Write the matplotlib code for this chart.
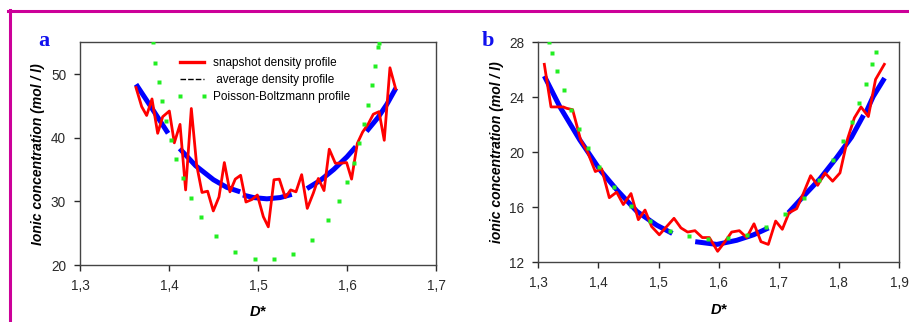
import numpy as np
import matplotlib.pyplot as plt
from matplotlib.lines import Line2D

nan = np.nan

# ---- panel a ----
snap_a_d = [1.3629, 1.3693, 1.3749, 1.3809, 1.3873, 1.3929, 1.4004, 1.4060,
            1.4124, 1.4187, 1.4251, 1.4311, 1.4371, 1.4434, 1.4498, 1.4562,
            1.4622, 1.4685, 1.4745, 1.4805, 1.4865, 1.4933, 1.4993, 1.5060,
            1.5116, 1.5180, 1.5240, 1.5307, 1.5367, 1.5427, 1.5491, 1.5554,
            1.5622, 1.5678, 1.5742, 1.5801, 1.5869, 1.5929, 1.5996, 1.6052,
            1.6116, 1.6176, 1.6240, 1.6296, 1.6360, 1.6419, 1.6483, 1.6547]
snap_a_c = [47.9, 44.9, 43.5, 46.1, 40.7, 43.3, 44.2, 39.2,
            42.1, 31.8, 44.6, 35.7, 31.4, 31.6, 28.5, 30.7,
            36.1, 31.5, 33.5, 34.1, 29.9, 30.3, 31.0, 27.6,
            26.0, 33.4, 33.5, 30.6, 31.8, 31.5, 34.2, 28.9,
            31.3, 33.6, 31.7, 38.2, 36.0, 36.0, 36.1, 33.5,
            39.1, 40.9, 42.2, 43.7, 44.1, 39.6, 51.0, 47.7]

# average profile, drawn as separate pieces (nan = break)
avg_a_d = [1.363, 1.380, 1.399, nan,
           1.412, 1.430, 1.450, 1.465, 1.480, nan,
           1.483, 1.495, 1.510, 1.525, 1.538, nan,
           1.555, 1.570, 1.585, 1.600, 1.610, nan,
           1.622, 1.635, 1.645, 1.655]
avg_a_c = [48.4, 44.8, 40.7, nan,
           38.3, 35.6, 33.4, 32.2, 31.5, nan,
           31.0, 30.6, 30.4, 30.6, 31.1, nan,
           32.0, 33.3, 35.0, 37.0, 38.6, nan,
           41.0, 43.2, 45.3, 47.8]

pb_a_d = [1.3816, 1.3846, 1.3888, 1.3925, 1.3966, 1.4022, 1.4082, 1.4154,
          1.4243, 1.4360, 1.4528, 1.4742, 1.4963, 1.5180, 1.5393, 1.5610,
          1.5790, 1.5910, 1.6004, 1.6079, 1.6139, 1.6195, 1.6236, 1.6277,
          1.6315, 1.6352, 1.6360]
pb_a_c = [55.0, 51.8, 48.8, 45.8, 42.7, 39.6, 36.6, 33.6,
          30.6, 27.5, 24.5, 22.1, 20.9, 20.9, 21.8, 24.0,
          27.1, 30.1, 33.1, 36.1, 39.1, 42.1, 45.2, 48.3,
          51.3, 54.3, 54.9]

# ---- panel b ----
snap_b_d = [1.3100, 1.3211, 1.3416, 1.3471, 1.3571, 1.3704, 1.3821, 1.3948,
            1.4054, 1.4181, 1.4303, 1.4414, 1.4542, 1.4664, 1.4775, 1.4885,
            1.5013, 1.5135, 1.5257, 1.5373, 1.5484, 1.5606, 1.5728, 1.5845,
            1.5983, 1.6105, 1.6216, 1.6344, 1.6466, 1.6588, 1.6704, 1.6826,
            1.6948, 1.7059, 1.7170, 1.7298, 1.7408, 1.7530, 1.7647, 1.7769,
            1.7896, 1.8018, 1.8146, 1.8257, 1.8368, 1.8490, 1.8610, 1.8756]
snap_b_c = [26.4, 23.3, 23.3, 23.2, 23.1, 20.9, 20.0, 18.6,
            18.8, 16.7, 17.1, 16.2, 17.0, 15.1, 15.8, 14.6,
            14.0, 14.6, 15.2, 14.5, 14.2, 14.3, 13.8, 13.8,
            12.8, 13.5, 14.2, 14.3, 13.8, 14.8, 13.5, 13.3,
            15.0, 14.4, 15.6, 15.9, 17.0, 18.3, 17.6, 18.5,
            17.9, 18.5, 21.0, 22.5, 23.3, 22.6, 25.3, 26.4]

avg_b_d = [1.310, 1.336, 1.369, 1.403, 1.430, 1.464, 1.497, 1.523, nan,
           1.561, 1.597, 1.630, 1.658, 1.683, nan,
           1.716, 1.741, 1.769, 1.796, 1.821, 1.841, nan,
           1.845, 1.857, 1.876]
avg_b_c = [25.55, 23.3, 20.9, 18.7, 17.3, 15.7, 14.7, 14.1, nan,
           13.5, 13.3, 13.6, 14.0, 14.5, nan,
           15.6, 16.8, 18.1, 19.6, 21.1, 22.7, nan,
           22.9, 24.05, 25.4]

pb_b_d = [1.3177, 1.3222, 1.3311, 1.3421, 1.3543, 1.3671, 1.3821, 1.4015,
          1.4253, 1.4547, 1.4863, 1.5185, 1.5501, 1.5828, 1.6150, 1.6466,
          1.6782, 1.7104, 1.7420, 1.7675, 1.7908, 1.8074, 1.8224, 1.8340,
          1.8446, 1.8551, 1.8617]
pb_b_c = [28.0, 27.25, 25.9, 24.5, 23.1, 21.7, 20.3, 18.9,
          17.45, 16.1, 15.0, 14.3, 13.9, 13.7, 13.75, 14.0,
          14.6, 15.5, 16.65, 18.0, 19.45, 20.8, 22.2, 23.6,
          25.0, 26.4, 27.3]

xticks_a = [1.3, 1.4, 1.5, 1.6, 1.7]
xticklabels_a = ["1,3", "1,4", "1,5", "1,6", "1,7"]
yticks_a = [20, 30, 40, 50]
xticks_b = [1.3, 1.4, 1.5, 1.6, 1.7, 1.8, 1.9]
xticklabels_b = ["1,3", "1,4", "1,5", "1,6", "1,7", "1,8", "1,9"]
yticks_b = [12, 16, 20, 24, 28]

legend_labels = ["snapshot density profile", " average density profile",
                 "Poisson-Boltzmann profile"]

RED = "#ff0000"
BLUE = "#0000ff"
GREEN = "#22ee22"
MAGENTA = "#cc0099"

plt.rcParams["font.family"] = ["Liberation Sans", "DejaVu Sans"]


def draw_panel(ax, snap_d, snap_c, avg_d, avg_c, pb_d, pb_c,
               xlim, ylim, xticks, xticklabels, yticks, ylabel):
    ax.plot(avg_d, avg_c, color=BLUE, lw=3.6, solid_capstyle="butt", zorder=2)
    ax.plot(snap_d, snap_c, color=RED, lw=2.0, zorder=3)
    ax.plot(pb_d, pb_c, ls="none", marker="s", ms=3.2, color=GREEN,
            mec="none", zorder=4)

    ax.set_xlim(*xlim)
    ax.set_ylim(*ylim)
    ax.set_xticks(xticks)
    ax.set_xticklabels(xticklabels)
    ax.set_yticks(yticks)
    ax.tick_params(direction="out", length=4, width=1, pad=6,
                   labelsize=9.8, colors="#2a2a2a")
    for sp in ax.spines.values():
        sp.set_color("#444444")
        sp.set_linewidth(1.0)

    ax.set_ylabel(ylabel, fontsize=10, fontweight="bold", style="italic",
                  labelpad=4)
    ax.set_xlabel("D*", fontsize=10.5, fontweight="bold", style="italic",
                  labelpad=9)


fig = plt.figure(figsize=(9.09, 3.22), dpi=100)
ax_a = fig.add_axes([0.0880, 0.177, 0.3916, 0.6916])
ax_b = fig.add_axes([0.5922, 0.1854, 0.3968, 0.6832])

draw_panel(ax_a, snap_a_d, snap_a_c, avg_a_d, avg_a_c, pb_a_d, pb_a_c,
           (1.3, 1.7), (20, 55), xticks_a, xticklabels_a, yticks_a,
           "Ionic concentration (mol / l)")
draw_panel(ax_b, snap_b_d, snap_b_c, avg_b_d, avg_b_c, pb_b_d, pb_b_c,
           (1.3, 1.9), (12, 28), xticks_b, xticklabels_b, yticks_b,
           "ionic concentration (mol / l)")

handles = [
    Line2D([], [], color=RED, lw=2.4),
    Line2D([], [], color="black", lw=1.0, ls=(0, (4, 1.5))),
    Line2D([], [], ls="none", marker="s", ms=3.2, color=GREEN, mec="none"),
]
ax_a.legend(handles, legend_labels, loc="upper left",
            bbox_to_anchor=(0.272, 0.935), frameon=False, fontsize=8.5,
            handlelength=2.6, handletextpad=0.45, labelspacing=0.45,
            borderpad=0, borderaxespad=0, numpoints=2)

# panel letters
fig.text(38 / 909, 1 - 45.6 / 322, "a", family="Liberation Serif",
         fontsize=16, fontweight="bold", color="#1010ee", va="baseline")
fig.text(482 / 909, 1 - 45.6 / 322, "b", family="Liberation Serif",
         fontsize=16, fontweight="bold", color="#1010ee", va="baseline")

# magenta frame (top and left)
fig.add_artist(Line2D([8 / 909, 1], [1 - 10.5 / 322] * 2, color=MAGENTA,
                      lw=2.2, transform=fig.transFigure))
fig.add_artist(Line2D([9.5 / 909] * 2, [0, 1 - 9.5 / 322], color=MAGENTA,
                      lw=2.2, transform=fig.transFigure))

fig.savefig("out.png", dpi=100)
